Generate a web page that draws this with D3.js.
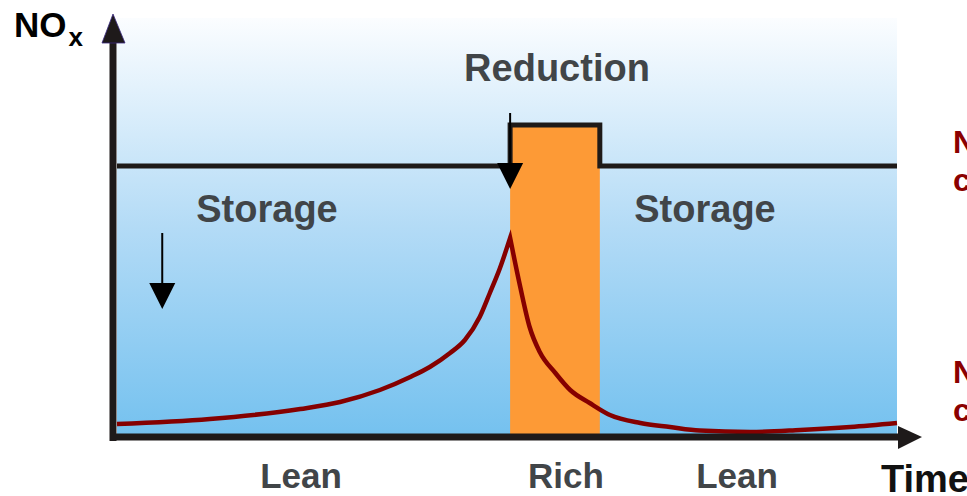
<!DOCTYPE html>
<html>
<head>
<meta charset="utf-8">
<script src="https://cdn.jsdelivr.net/npm/d3@7/dist/d3.min.js"></script>
<style>
  html, body { margin: 0; padding: 0; background: #ffffff; overflow: hidden; }
  svg { display: block; }
  text { font-family: "Liberation Sans", Arial, Helvetica, sans-serif; font-weight: bold; }
</style>
</head>
<body>
<svg id="chart" width="967" height="496"></svg>
<script>
// ---- Data (time and NOx in arbitrary units 0..100) ----
const curveTime = [0, 11.9, 23.5, 28.6, 33.7, 37.6, 40.1, 42.7, 44.6, 46.5, 47.8, 49.1, 50.4,
                   51.7, 52.9, 54.2, 56.2, 58.1, 60.6, 63.2, 67.1, 70.9, 74.7, 81.2, 87.6, 94, 100];
const curveNox  = [3.25, 4.5, 7, 8.75, 11.75, 15, 17.5, 21, 24.25, 30, 36, 42.25, 49.75,
                   37.5, 27.5, 21.25, 16, 11.75, 8.5, 5.5, 3.5, 2.5, 1.6, 1.25, 1.75, 2.5, 3.5];
const peakIndex = 12;

const phaseNames  = ["Lean", "Rich", "Lean"];
const phaseStarts = [0, 50.4, 61.9];
const phaseEnds   = [50.4, 61.9, 100];
const phaseLevels = [67.75, 78, 67.75];

const regionLabels = ["Storage", "Reduction", "Storage"];

// ---- Layout ----
const svg = d3.select("#chart");
const x = d3.scaleLinear().domain([0, 100]).range([117, 897]);
const y = d3.scaleLinear().domain([0, 100]).range([437, 37]);

const defs = svg.append("defs");
const grad = defs.append("linearGradient").attr("id", "bg").attr("x1", 0).attr("y1", 0).attr("x2", 0).attr("y2", 1);
grad.append("stop").attr("offset", "0%").attr("stop-color", "#fbfdff");
grad.append("stop").attr("offset", "50%").attr("stop-color", "#b3dbf6");
grad.append("stop").attr("offset", "100%").attr("stop-color", "#74c1ef");

svg.append("rect")
  .attr("x", x(0)).attr("y", 18)
  .attr("width", x(100) - x(0)).attr("height", y(0) - 18)
  .attr("fill", "url(#bg)");

// rich phase (orange)
svg.append("rect")
  .attr("x", x(phaseStarts[1])).attr("y", y(phaseLevels[1]))
  .attr("width", x(phaseEnds[1]) - x(phaseStarts[1]))
  .attr("height", y(0) - y(phaseLevels[1]))
  .attr("fill", "#fd9a36");

// step line
const stepPts = phaseStarts.map((s, i) => [s, phaseLevels[i]]).concat([[100, phaseLevels[2]]]);
svg.append("path")
  .attr("d", d3.line().x(d => x(d[0])).y(d => y(d[1])).curve(d3.curveStepAfter)(stepPts))
  .attr("fill", "none").attr("stroke", "#1e1a18").attr("stroke-width", 5)
  .attr("stroke-linejoin", "miter");

// NOx curve
const pts = curveTime.map((t, i) => [t, curveNox[i]]);
const lineGen = d3.line().x(d => x(d[0])).y(d => y(d[1])).curve(d3.curveMonotoneX);
const rise = pts.slice(0, peakIndex + 1);
const fall = pts.slice(peakIndex);
svg.append("path")
  .attr("d", lineGen(rise) + lineGen(fall).replace(/^M/, "L"))
  .attr("fill", "none").attr("stroke", "#850000").attr("stroke-width", 4.5)
  .attr("stroke-linejoin", "miter").attr("stroke-miterlimit", 20);

// arrows
function arrow(t, from, to) {
  const ax = x(t), y0 = y(from), y1 = y(to);
  svg.append("line").attr("x1", ax).attr("x2", ax).attr("y1", y0).attr("y2", y1 - 20)
    .attr("stroke", "#000").attr("stroke-width", 2);
  svg.append("path")
    .attr("d", `M${ax - 13},${y1 - 26} L${ax + 13},${y1 - 26} L${ax},${y1} Z`)
    .attr("fill", "#000");
}
arrow(phaseStarts[1], 81, 62);
arrow(5.8, 51, 32);

// axes
const axisColor = "#1e1a1a";
svg.append("line").attr("x1", x(0) - 4).attr("x2", x(0) - 4).attr("y1", 40).attr("y2", y(0) + 4)
  .attr("stroke", axisColor).attr("stroke-width", 7);
svg.append("path").attr("d", `M${x(0) - 15},43 L${x(0) + 8},43 L${x(0) - 4},14 Z`)
  .attr("fill", axisColor).attr("stroke", "#3a2a80").attr("stroke-width", 0.8);
svg.append("line").attr("x1", x(0) - 7).attr("x2", x(100) + 3).attr("y1", y(0)).attr("y2", y(0))
  .attr("stroke", axisColor).attr("stroke-width", 7);
svg.append("path").attr("d", `M${x(100) + 1},${y(0) - 11} L${x(100) + 1},${y(0) + 12} L${x(100) + 25},${y(0)} Z`)
  .attr("fill", axisColor);

// axis titles
const noxT = svg.append("text").attr("x", 14).attr("y", 37).attr("fill", "#000").attr("font-size", 35);
noxT.append("tspan").text("NO");
noxT.append("tspan").attr("font-size", 26).attr("dy", 9).attr("dx", 2).text("x");
svg.append("text").attr("x", 881).attr("y", 492).attr("fill", "#111").attr("font-size", 38).text("Time");

// region labels
const gray = "#414548";
svg.append("text").attr("x", 267).attr("y", 222).attr("text-anchor", "middle").attr("fill", gray).attr("font-size", 38).text(regionLabels[0]);
svg.append("text").attr("x", 557).attr("y", 81).attr("text-anchor", "middle").attr("fill", gray).attr("font-size", 38).text(regionLabels[1]);
svg.append("text").attr("x", 705).attr("y", 222).attr("text-anchor", "middle").attr("fill", gray).attr("font-size", 38).text(regionLabels[2]);

// phase labels
const phaseLabelX = [301, 566, 737];
phaseNames.forEach((n, i) => {
  svg.append("text").attr("x", phaseLabelX[i]).attr("y", 488).attr("text-anchor", "middle")
    .attr("fill", gray).attr("font-size", 35).text(n);
});

// right-side legends (cut off by the frame, as in the reference)
const red = "#8b0000";
[["NOx upstream", "catalyst", 153], ["NOx downstream", "catalyst", 383]].forEach(d => {
  svg.append("text").attr("x", 953).attr("y", d[2]).attr("fill", red).attr("font-size", 32).text(d[0]);
  svg.append("text").attr("x", 953).attr("y", d[2] + 38).attr("fill", red).attr("font-size", 32).text(d[1]);
});
</script>
</body>
</html>
